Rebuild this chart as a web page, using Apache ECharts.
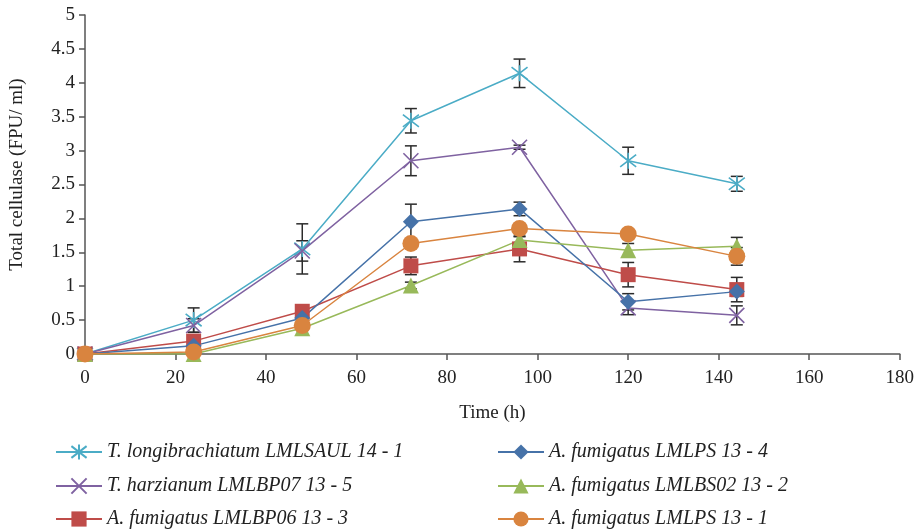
<!DOCTYPE html>
<html>
<head>
<meta charset="utf-8">
<script src="https://cdn.jsdelivr.net/npm/echarts@6/dist/echarts.min.js"></script>
<style>
html,body{margin:0;padding:0;background:#fff;}
#c{width:917px;height:531px;}
</style>
</head>
<body>
<div id="c"></div>
<script>
var times = [0, 24, 48, 72, 96, 120, 144];
var xTicks = [0, 20, 40, 60, 80, 100, 120, 140, 160, 180];
var yTicks = [0, 0.5, 1, 1.5, 2, 2.5, 3, 3.5, 4, 4.5, 5];

var names = [
  'T. longibrachiatum LMLSAUL 14 - 1',
  'T. harzianum LMLBP07 13 - 5',
  'A. fumigatus LMLBP06 13 - 3',
  'A. fumigatus LMLPS 13 - 4',
  'A. fumigatus LMLBS02 13 - 2',
  'A. fumigatus LMLPS 13 - 1'
];

var longiVals = [0, 0.50, 1.55, 3.44, 4.14, 2.85, 2.51];
var longiErr  = [0, 0.18, 0.37, 0.18, 0.21, 0.20, 0.11];
var harzVals  = [0, 0.42, 1.52, 2.85, 3.05, 0.68, 0.57];
var harzErr   = [0, 0.10, 0.15, 0.22, 0.03, 0.10, 0.14];
var bp06Vals  = [0, 0.19, 0.63, 1.30, 1.55, 1.17, 0.95];
var bp06Err   = [0, 0.05, 0.05, 0.13, 0.19, 0.18, 0.18];
var ps134Vals = [0, 0.12, 0.53, 1.95, 2.14, 0.77, 0.92];
var ps134Err  = [0, 0.03, 0.03, 0.26, 0.10, 0.12, 0.07];
var bs02Vals  = [0, 0.00, 0.38, 1.01, 1.68, 1.53, 1.59];
var bs02Err   = [0, 0.00, 0.03, 0.05, 0.05, 0.10, 0.13];
var ps131Vals = [0, 0.03, 0.42, 1.63, 1.85, 1.77, 1.44];
var ps131Err  = [0, 0.02, 0.03, 0.05, 0.05, 0.05, 0.13];

var allVals = [longiVals, harzVals, bp06Vals, ps134Vals, bs02Vals, ps131Vals];
var allErr  = [longiErr, harzErr, bp06Err, ps134Err, bs02Err, ps131Err];
var colors = ['#4BACC6', '#7F62A1', '#BF4C49', '#4672A8', '#98B95A', '#D9843F'];
var symbols = [
  'path://M0,0L10,10M10,0L0,10M5,-1.5L5,11.5',
  'path://M0,0L10,10M10,0L0,10',
  'rect', 'diamond', 'triangle', 'circle'
];
var sizes = [16, 15, 15, 16, 16, 17];

var FONT = '"Liberation Serif", "DejaVu Serif", serif';
var chart = echarts.init(document.getElementById('c'), null, {renderer: 'canvas'});

var series = [];
allVals.forEach(function (vals, i) {
  var d = [];
  times.forEach(function (t, k) {
    if (allErr[i][k] > 0) d.push([t, vals[k] - allErr[i][k], vals[k] + allErr[i][k]]);
  });
  series.push({
    type: 'custom',
    z: 1,
    silent: true,
    data: d,
    renderItem: function (params, api) {
      var x = api.value(0);
      var lo = api.coord([x, api.value(1)]);
      var hi = api.coord([x, api.value(2)]);
      var w = 6;
      var st = {stroke: '#2b2b2b', lineWidth: 1.5};
      return {
        type: 'group',
        children: [
          {type: 'line', shape: {x1: lo[0], y1: lo[1], x2: hi[0], y2: hi[1]}, style: st},
          {type: 'line', shape: {x1: lo[0] - w, y1: lo[1], x2: lo[0] + w, y2: lo[1]}, style: st},
          {type: 'line', shape: {x1: hi[0] - w, y1: hi[1], x2: hi[0] + w, y2: hi[1]}, style: st}
        ]
      };
    }
  });
});
allVals.forEach(function (vals, i) {
  series.push({
    name: names[i],
    type: 'line',
    z: 3,
    data: times.map(function (t, k) { return [t, vals[k]]; }),
    symbol: symbols[i],
    symbolSize: sizes[i],
    showAllSymbol: true,
    lineStyle: {color: colors[i], width: 1.5},
    itemStyle: {color: colors[i], borderColor: colors[i], borderWidth: (i < 2 ? 1.6 : 0)},
    emphasis: {disabled: true},
    animation: false
  });
});

var legendText = {fontFamily: FONT, fontSize: 20, fontStyle: 'italic', color: '#222'};
var legendLefts = [50, 50, 50, 492, 492, 492];
var legendTops = [437, 471, 504, 437, 471, 504];
var legends = names.map(function (n, i) {
  return {
    data: [n], orient: 'horizontal', left: legendLefts[i], top: legendTops[i],
    itemWidth: 46, itemHeight: 19, textStyle: legendText, selectedMode: false
  };
});

chart.setOption({
  animation: false,
  backgroundColor: '#fff',
  grid: {left: 84, right: 17, top: 15, bottom: 177, containLabel: false},
  legend: legends,
  xAxis: {
    type: 'value', min: xTicks[0], max: xTicks[xTicks.length - 1], interval: 20,
    name: 'Time (h)', nameLocation: 'middle', nameGap: 50,
    nameTextStyle: {fontFamily: FONT, fontSize: 19, color: '#222'},
    axisLine: {lineStyle: {color: '#555', width: 1.5}},
    axisTick: {show: true, inside: false, length: 6, lineStyle: {color: '#555', width: 1.5}},
    axisLabel: {fontFamily: FONT, fontSize: 19, color: '#222', margin: 15},
    splitLine: {show: false}
  },
  yAxis: {
    type: 'value', min: yTicks[0], max: yTicks[yTicks.length - 1], interval: 0.5,
    name: 'Total cellulase (FPU/ ml)', nameLocation: 'middle', nameGap: 58,
    nameTextStyle: {fontFamily: FONT, fontSize: 19, color: '#222', padding: [0, 0, 0, 20]},
    axisLine: {show: true, lineStyle: {color: '#555', width: 1.5}},
    axisTick: {show: true, inside: false, length: 6, lineStyle: {color: '#555', width: 1.5}},
    axisLabel: {fontFamily: FONT, fontSize: 19, color: '#222', margin: 10},
    splitLine: {show: false}
  },
  series: series
});
</script>
</body>
</html>
